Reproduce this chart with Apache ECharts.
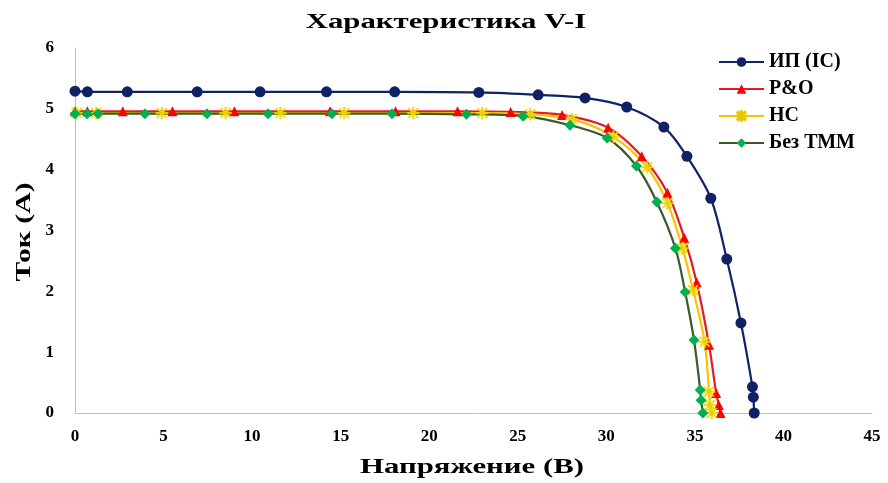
<!DOCTYPE html>
<html>
<head>
<meta charset="utf-8">
<script src="https://cdn.jsdelivr.net/npm/echarts@6/dist/echarts.min.js"></script>
<style>html,body{margin:0;padding:0;background:#fff}#c{width:888px;height:483px}</style>
</head>
<body>
<div id="c"></div>
<script>
// Texts
const titleText = 'Характеристика V-I';
const xName = 'Напряжение (В)';
const yName = 'Ток (А)';
// Series names
const seriesNames = ['ИП (IC)', 'P&O', 'НС', 'Без ТММ'];
// ИП (IC)
const icV = [0, 0.7, 2.95, 6.9, 10.45, 14.2, 18.05, 22.8, 26.15, 28.8, 31.15, 33.25, 34.55, 35.9, 36.8, 37.6, 38.25, 38.3, 38.35];
const icI = [5.29, 5.28, 5.28, 5.28, 5.28, 5.28, 5.28, 5.27, 5.23, 5.18, 5.03, 4.70, 4.22, 3.53, 2.53, 1.48, 0.43, 0.26, 0];
// P&O
const poV = [0, 0.7, 2.7, 5.5, 9.0, 14.4, 18.1, 21.6, 24.6, 27.5, 30.1, 32.0, 33.45, 34.4, 35.1, 35.8, 36.2, 36.35, 36.45];
const poI = [4.96, 4.96, 4.96, 4.96, 4.96, 4.96, 4.96, 4.96, 4.95, 4.90, 4.69, 4.22, 3.62, 2.88, 2.15, 1.12, 0.33, 0.13, 0];
// НС
const hcV = [0.1, 1.2, 4.9, 8.5, 11.6, 15.2, 19.1, 23.0, 25.7, 28.05, 30.4, 32.3, 33.45, 34.3, 34.9, 35.55, 35.8, 35.85, 35.95];
const hcI = [4.93, 4.93, 4.93, 4.93, 4.93, 4.93, 4.93, 4.93, 4.91, 4.83, 4.54, 4.04, 3.45, 2.71, 2.02, 1.17, 0.35, 0.13, 0];
// Без ТММ
const noV = [0, 0.68, 1.3, 3.95, 7.45, 10.9, 14.5, 17.9, 22.1, 25.3, 27.95, 30.05, 31.7, 32.85, 33.9, 34.45, 34.95, 35.3, 35.35, 35.45];
const noI = [4.92, 4.92, 4.92, 4.92, 4.92, 4.92, 4.92, 4.92, 4.91, 4.88, 4.73, 4.52, 4.06, 3.47, 2.71, 1.99, 1.20, 0.38, 0.21, 0];
// Axis ticks
const xTicks = [0, 5, 10, 15, 20, 25, 30, 35, 40, 45];
const yTicks = [0, 1, 2, 3, 4, 5, 6];

function pairs(v, i) { return v.map((x, k) => [x, i[k]]); }

const starPath = 'path://M4.4 0 H5.6 V10 H4.4 Z M0.6 1.45 L1.45 0.6 L9.4 8.55 L8.55 9.4 Z M8.55 0.6 L9.4 1.45 L1.45 9.4 L0.6 8.55 Z M0 4.4 H10 V5.6 H0 Z';

const serif = '"Liberation Serif", "DejaVu Serif", serif';

const chart = echarts.init(document.getElementById('c'), null, { renderer: 'canvas' });
chart.setOption({
  animation: false,
  backgroundColor: '#ffffff',
  graphic: [
    {
      type: 'text', x: 446, y: 22, scaleX: 1.4, z: 10,
      style: { text: titleText, font: 'bold 22px ' + serif, fill: '#000', align: 'center', verticalAlign: 'middle' }
    },
    {
      type: 'text', x: 472, y: 467, scaleX: 1.4, z: 10,
      style: { text: xName, font: 'bold 22px ' + serif, fill: '#000', align: 'center', verticalAlign: 'middle' }
    },
    {
      type: 'text', x: 24, y: 232, rotation: Math.PI / 2, scaleX: 1.35, z: 10,
      style: { text: yName, font: 'bold 22px ' + serif, fill: '#000', align: 'center', verticalAlign: 'middle' }
    }
  ],
  legend: {
    orient: 'vertical', left: 713, top: 47,
    itemWidth: 45, itemHeight: 12, itemGap: 7,
    textStyle: { fontFamily: serif, fontWeight: 'bold', fontSize: 20, lineHeight: 20, color: '#000' },
    data: seriesNames
  },
  grid: { left: 75, right: 16, top: 48, bottom: 70, containLabel: false },
  xAxis: {
    type: 'value', min: xTicks[0], max: xTicks[xTicks.length - 1], interval: 5,
    axisLine: { show: true, lineStyle: { color: '#bfbfbf', width: 1 } },
    axisTick: { show: false },
    splitLine: { show: false },
    axisLabel: { fontFamily: serif, fontWeight: 'bold', fontSize: 17, color: '#000', margin: 15 }
  },
  yAxis: {
    type: 'value', min: yTicks[0], max: yTicks[yTicks.length - 1], interval: 1,
    axisLine: { show: true, lineStyle: { color: '#bfbfbf', width: 1 } },
    axisTick: { show: false },
    splitLine: { show: false },
    axisLabel: { fontFamily: serif, fontWeight: 'bold', fontSize: 17, color: '#000', margin: 21 }
  },
  series: [
    {
      name: seriesNames[0], type: 'line', smooth: 0.3, data: pairs(icV, icI),
      symbol: 'circle', symbolSize: 11,
      lineStyle: { color: '#0f2266', width: 2.2 },
      itemStyle: { color: '#0f2266' }
    },
    {
      name: seriesNames[1], type: 'line', smooth: 0.3, data: pairs(poV, poI),
      symbol: 'triangle', symbolSize: 10,
      lineStyle: { color: '#e31b23', width: 2.2 },
      itemStyle: { color: '#ff0000' }
    },
    {
      name: seriesNames[2], type: 'line', smooth: 0.3, data: pairs(hcV, hcI),
      symbol: starPath, symbolSize: 12,
      lineStyle: { color: '#ffc000', width: 2.2 },
      itemStyle: { color: '#f5e600', borderColor: '#e8c800', borderWidth: 0.5 }
    },
    {
      name: seriesNames[3], type: 'line', smooth: 0.3, data: pairs(noV, noI),
      symbol: 'diamond', symbolSize: 11,
      lineStyle: { color: '#3a5a2e', width: 2.2 },
      itemStyle: { color: '#00b050' }
    }
  ]
});
</script>
</body>
</html>
